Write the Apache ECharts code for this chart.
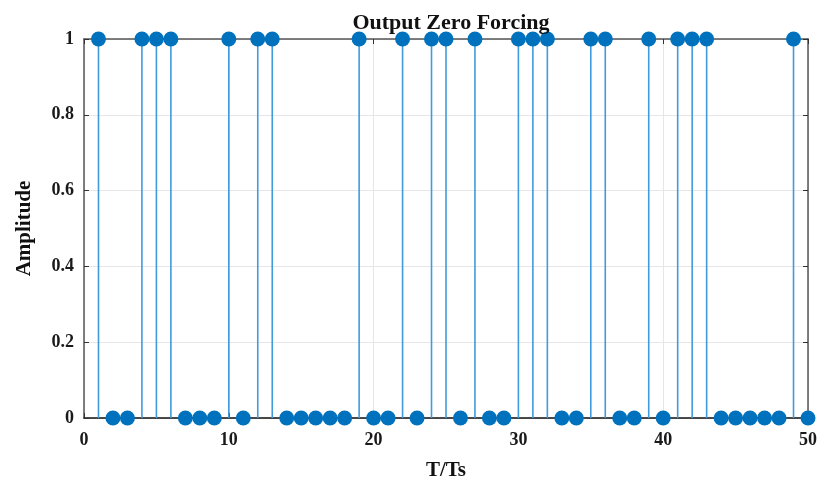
<!DOCTYPE html>
<html>
<head>
<meta charset="utf-8">
<script src="https://cdn.jsdelivr.net/npm/echarts@6/dist/echarts.min.js"></script>
<style>
  html, body { margin: 0; padding: 0; background: #fff; }
  #chart { width: 822px; height: 486px; }
</style>
</head>
<body>
<div id="chart"></div>
<script>
// sample index n = 1..50
const samples = [1, 2, 3, 4, 5, 6, 7, 8, 9, 10, 11, 12, 13, 14, 15, 16, 17, 18, 19, 20,
  21, 22, 23, 24, 25, 26, 27, 28, 29, 30, 31, 32, 33, 34, 35, 36, 37, 38, 39, 40,
  41, 42, 43, 44, 45, 46, 47, 48, 49, 50]
const amplitude = [1, 0, 0, 1, 1, 1, 0, 0, 0, 1, 0, 1, 1, 0, 0, 0, 0, 0, 1, 0,
  0, 1, 0, 1, 1, 0, 1, 0, 0, 1, 1, 1, 0, 0, 1, 1, 0, 0, 1, 0,
  1, 1, 1, 0, 0, 0, 0, 0, 1, 0]
const xTicks = [0, 10, 20, 30, 40, 50]
const yTicks = [0, 0.2, 0.4, 0.6, 0.8, 1]

const points = samples.map((n, i) => [n, amplitude[i]])
const font = 'Liberation Serif'

const chart = echarts.init(document.getElementById('chart'))

// top / right edges of the box
const boxAxis = {
  axisLine: { show: true, onZero: false, lineStyle: { color: '#555', width: 1.5 } },
  axisTick: { show: true, inside: true, length: 5, lineStyle: { color: '#333' } },
  axisLabel: { show: false },
  splitLine: { show: false }
}

const tickLabel = { fontFamily: font, fontWeight: 'bold', fontSize: 18, color: '#1a1a1a' }
const nameStyle = { fontFamily: font, fontWeight: 'bold', fontSize: 21, color: '#111' }

chart.setOption({
  animation: false,
  title: {
    text: 'Output Zero Forcing',
    left: 446,
    top: 7,
    textAlign: 'center',
    textStyle: { fontFamily: font, fontWeight: 'bold', fontSize: 22, color: '#111' }
  },
  grid: { left: 84, right: 14, top: 39, bottom: 68 },
  xAxis: [{
    type: 'value',
    min: xTicks[0],
    max: xTicks[xTicks.length - 1],
    interval: 10,
    name: 'T/Ts',
    nameLocation: 'middle',
    nameGap: 42,
    nameTextStyle: nameStyle,
    axisLine: { onZero: false, lineStyle: { color: '#111', width: 1.5 } },
    axisTick: { inside: true, length: 5, lineStyle: { color: '#333' } },
    axisLabel: Object.assign({ margin: 13 }, tickLabel),
    splitLine: { show: true, lineStyle: { color: '#e6e6e6' } }
  }, Object.assign({ type: 'value', position: 'top', min: 0, max: 50, interval: 10 }, boxAxis)],
  yAxis: [{
    type: 'value',
    min: yTicks[0],
    max: yTicks[yTicks.length - 1],
    interval: 0.2,
    name: 'Amplitude',
    nameLocation: 'middle',
    nameGap: 49,
    nameTextStyle: nameStyle,
    axisLine: { show: true, onZero: false, lineStyle: { color: '#555', width: 1.5 } },
    axisTick: { show: true, inside: true, length: 5, lineStyle: { color: '#333' } },
    axisLabel: Object.assign({ margin: 10 }, tickLabel),
    splitLine: { show: true, lineStyle: { color: '#e6e6e6' } }
  }, Object.assign({ type: 'value', position: 'right', min: 0, max: 1, interval: 0.2 }, boxAxis)],
  series: [{
    name: 'stem',
    type: 'bar',
    data: points,
    barWidth: 1.6,
    itemStyle: { color: '#3f9bdc' },
    z: 2
  }, {
    name: 'marker',
    type: 'scatter',
    data: points,
    symbol: 'circle',
    symbolSize: 15,
    clip: false,
    itemStyle: { color: '#0072BD', opacity: 1 },
    z: 3
  }]
})
</script>
</body>
</html>
